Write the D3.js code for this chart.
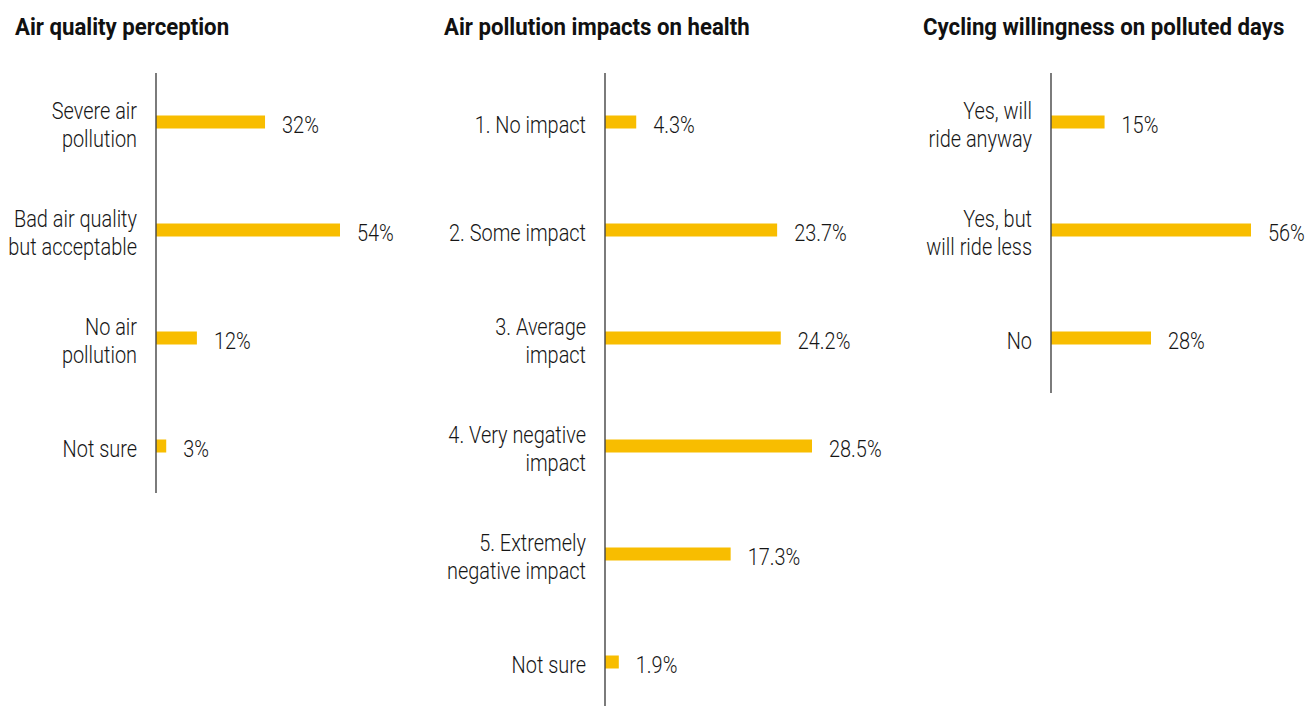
<!DOCTYPE html>
<meta charset="utf-8">
<script src="https://d3js.org/d3.v7.min.js"></script>
<style>
  body { margin: 0; background: #fff; }
</style>
<div id="chart"></div>
<script>
// data
var perceptionCats = ["Severe air\npollution", "Bad air quality\nbut acceptable", "No air\npollution", "Not sure"];
var perceptionVals = [32, 54, 12, 3];

var healthCats = ["1. No impact", "2. Some impact", "3. Average\nimpact", "4. Very negative\nimpact", "5. Extremely\nnegative impact", "Not sure"];
var healthVals = [4.3, 23.7, 24.2, 28.5, 17.3, 1.9];

var cyclingCats = ["Yes, will\nride anyway", "Yes, but\nwill ride less", "No"];
var cyclingVals = [15, 56, 28];

var titles = ["Air quality perception", "Air pollution impacts on health", "Cycling willingness on polluted days"];

// layout
var width = 1308, height = 706;
var rowTop = 122, rowStep = 108, barH = 13;
var axisTop = 73;
var squeeze = 0.83, titleSqueeze = 0.945;
var barColor = "#f8bd00", ink = "#161616";

var panels = [
  {title: titles[0], titleX: 15,  axisX: 156,  axisBottom: 493, cats: perceptionCats, vals: perceptionVals, barMax: 184},
  {title: titles[1], titleX: 444, axisX: 605,  axisBottom: 712, cats: healthCats,     vals: healthVals,     barMax: 207},
  {title: titles[2], titleX: 923, axisX: 1051, axisBottom: 393, cats: cyclingCats,    vals: cyclingVals,    barMax: 200}
];

var svg = d3.select("#chart")
  .append("svg")
    .attr("width", width)
    .attr("height", height)
    .style("font-family", "Roboto, 'DejaVu Sans', sans-serif");

panels.forEach(function(p) {
  var g = svg.append("g");

  var x = d3.scaleLinear()
    .domain([0, d3.max(p.vals)])
    .range([p.axisX, p.axisX + p.barMax]);

  var y = d3.scalePoint()
    .domain(p.cats)
    .range([rowTop, rowTop + (p.cats.length - 1) * rowStep]);

  // title
  g.append("text")
    .attr("transform", "translate(" + p.titleX + ",35) scale(" + titleSqueeze + ",1)")
    .attr("font-size", "23.5px")
    .attr("font-weight", 700)
    .attr("fill", "#111")
    .text(p.title);

  // bars
  g.selectAll("rect")
    .data(p.vals)
    .enter()
    .append("rect")
      .attr("x", x(0))
      .attr("y", function(d, i) { return y(p.cats[i]) - barH / 2; })
      .attr("width", function(d) { return x(d) - x(0); })
      .attr("height", barH)
      .attr("fill", barColor);

  // value labels
  g.selectAll(".val")
    .data(p.vals)
    .enter()
    .append("text")
      .attr("class", "val")
      .attr("transform", function(d, i) {
        return "translate(" + (x(d) + 17) + "," + (y(p.cats[i]) + 10.5) + ") scale(" + squeeze + ",1)";
      })
      .attr("font-size", "24px")
      .attr("font-weight", 300)
      .attr("fill", ink)
      .text(function(d) { return d + "%"; });

  // category labels
  var labels = g.selectAll(".cat")
    .data(p.cats)
    .enter()
    .append("text")
      .attr("class", "cat")
      .attr("text-anchor", "end")
      .attr("font-size", "24px")
      .attr("font-weight", 300)
      .attr("fill", ink)
      .attr("transform", function(d) {
        var n = d.split("\n").length;
        return "translate(" + (p.axisX - 19) + "," + (y(d) + 11 - (n - 1) * 14.5) + ") scale(" + squeeze + ",1)";
      });

  labels.selectAll("tspan")
    .data(function(d) { return d.split("\n"); })
    .enter()
    .append("tspan")
      .attr("x", 0)
      .attr("dy", function(d, i) { return i === 0 ? 0 : 29; })
      .text(function(d) { return d; });

  // axis line
  g.append("line")
    .attr("x1", p.axisX).attr("x2", p.axisX)
    .attr("y1", axisTop).attr("y2", p.axisBottom)
    .attr("stroke", "#444")
    .attr("stroke-width", 1.4);
});
</script>
